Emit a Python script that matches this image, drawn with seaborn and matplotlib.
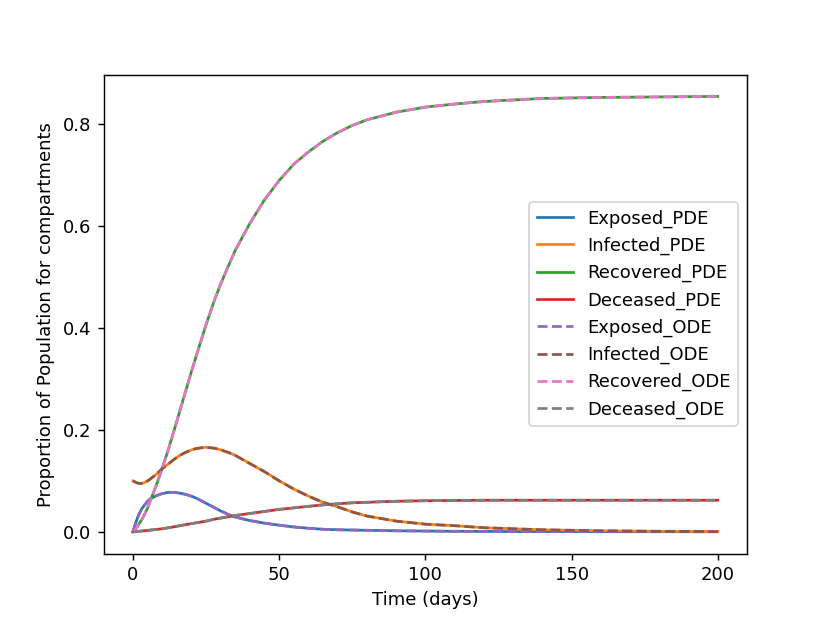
import matplotlib
matplotlib.use("Agg")
import seaborn as sns
import matplotlib.pyplot as plt
from matplotlib.ticker import MultipleLocator

# values (PDE and ODE curves overlap)
days = [0, 1, 2, 3, 4, 5, 6, 8, 10, 12, 14, 16, 18, 20, 22, 25, 28, 30, 33,
        35, 40, 45, 50, 55, 60, 65, 70, 75, 80, 90, 100, 110, 120, 130, 140,
        150, 160, 180, 200]

exposed = [0.0, 0.019, 0.034, 0.045, 0.053, 0.060, 0.065, 0.071, 0.075,
           0.0775, 0.0775, 0.076, 0.0735, 0.070, 0.065, 0.056, 0.047, 0.041,
           0.033, 0.029, 0.022, 0.017, 0.013, 0.0095, 0.007, 0.005, 0.004,
           0.0035, 0.003, 0.002, 0.0015, 0.001, 0.0008, 0.0005, 0.0004,
           0.0003, 0.0002, 0.0002, 0.0001]
infected = [0.100, 0.097, 0.095, 0.095, 0.097, 0.100, 0.104, 0.113, 0.124,
            0.133, 0.142, 0.150, 0.156, 0.161, 0.164, 0.166, 0.164, 0.161,
            0.155, 0.150, 0.134, 0.118, 0.100, 0.084, 0.070, 0.058, 0.049,
            0.039, 0.031, 0.021, 0.015, 0.012, 0.008, 0.006, 0.004, 0.003,
            0.002, 0.001, 0.0005]
recovered = [0.0, 0.006, 0.015, 0.024, 0.035, 0.047, 0.062, 0.092, 0.125,
             0.160, 0.198, 0.237, 0.276, 0.315, 0.352, 0.407, 0.457, 0.487,
             0.527, 0.553, 0.606, 0.652, 0.690, 0.722, 0.746, 0.767, 0.784,
             0.798, 0.809, 0.824, 0.834, 0.840, 0.845, 0.848, 0.851, 0.852,
             0.853, 0.854, 0.855]
deceased = [0.0, 0.0005, 0.001, 0.0016, 0.0022, 0.0028, 0.0034, 0.0047, 0.006,
            0.0078, 0.0098, 0.012, 0.014, 0.016, 0.018, 0.021, 0.025, 0.027,
            0.030, 0.032, 0.036, 0.040, 0.044, 0.047, 0.050, 0.053, 0.055,
            0.057, 0.058, 0.060, 0.061, 0.0615, 0.062, 0.062, 0.062, 0.062,
            0.062, 0.062, 0.062]

compartments = ["Exposed", "Infected", "Recovered", "Deceased"]
pde = [exposed, infected, recovered, deceased]
ode = [exposed, infected, recovered, deceased]

fig, ax = plt.subplots(figsize=(830 / 130, 622 / 130), dpi=130)

colors = plt.rcParams["axes.prop_cycle"].by_key()["color"]
for i, (name, vals) in enumerate(zip(compartments, pde)):
    sns.lineplot(x=days, y=vals, ax=ax, color=colors[i], linewidth=1.5,
                 label=f"{name}_PDE")
for i, (name, vals) in enumerate(zip(compartments, ode)):
    sns.lineplot(x=days, y=vals, ax=ax, color=colors[i + 4], linewidth=1.5,
                 linestyle="--", label=f"{name}_ODE")

ax.xaxis.set_major_locator(MultipleLocator(50))
ax.set_xlabel("Time (days)")
ax.set_ylabel("Proportion of Population for compartments")
ax.legend(loc="center right")

fig.savefig("out.png", dpi=130)
